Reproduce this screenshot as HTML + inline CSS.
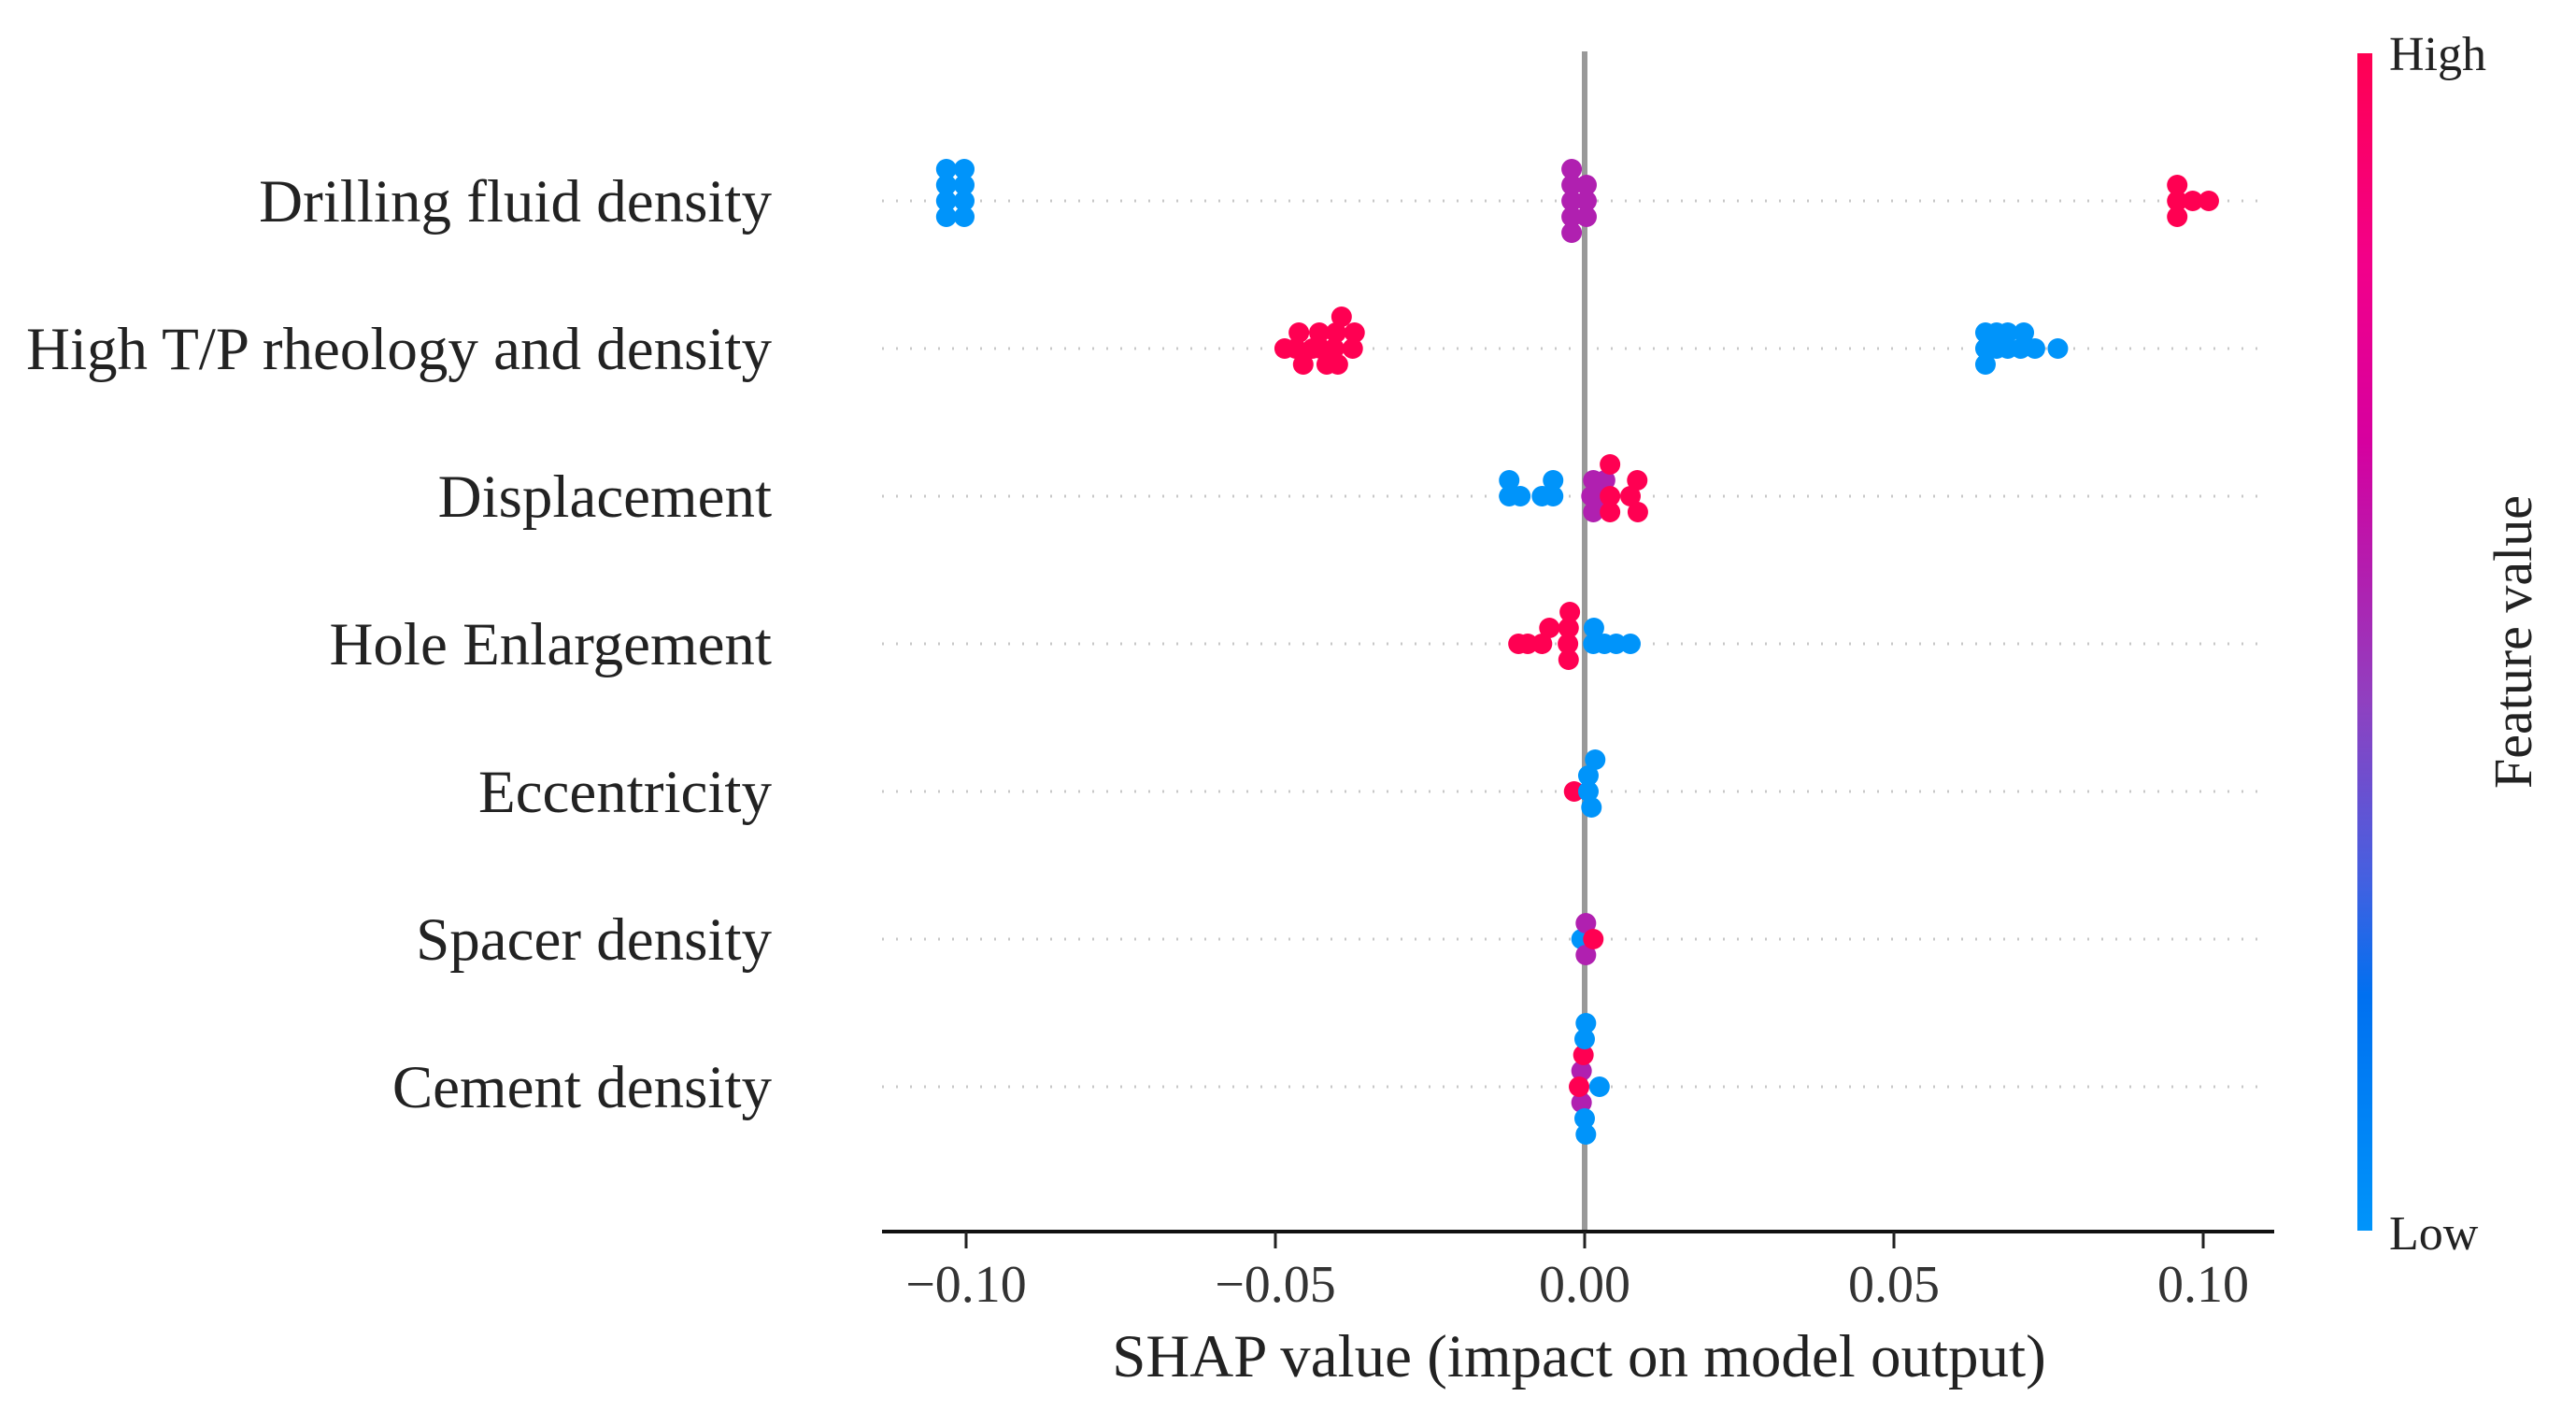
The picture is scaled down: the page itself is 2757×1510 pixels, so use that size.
<!DOCTYPE html>
<html><head><meta charset="utf-8"><style>
html,body{margin:0;padding:0;background:#fff;}
svg{display:block;font-family:"Liberation Serif",serif;}
</style></head><body>
<svg id="chart" width="2757" height="1510" viewBox="0 0 2757 1510" xmlns="http://www.w3.org/2000/svg">
<defs>
<linearGradient id="cbar" x1="0" y1="1" x2="0" y2="0">
<stop offset="0" stop-color="#0094fa"/><stop offset="0.2" stop-color="#0070f0"/><stop offset="0.3" stop-color="#4560e0"/>
<stop offset="0.45" stop-color="#9040c0"/><stop offset="0.55" stop-color="#b020b0"/><stop offset="0.67" stop-color="#d6009f"/>
<stop offset="0.82" stop-color="#f2008a"/><stop offset="1" stop-color="#ff0052"/>
</linearGradient>
</defs>
<g id="grid"></g>
<line x1="1696" y1="55" x2="1696" y2="1318" stroke="#999" stroke-width="6"/>
<g id="dots"></g>
<line x1="944" y1="1318" x2="2434" y2="1318" stroke="#111" stroke-width="4"/>
<g id="xticks"></g>
<g id="ylabels"></g>
<text x="1690" y="1473" font-size="65" text-anchor="middle" fill="#222">SHAP value (impact on model output)</text>
<rect x="2523" y="57" width="16" height="1260" fill="url(#cbar)"/>
<text x="2557" y="75" font-size="52" fill="#222">High</text>
<text x="2557" y="1337" font-size="52" fill="#222">Low</text>
<text x="2709" y="687" font-size="58" fill="#222" text-anchor="middle" transform="rotate(-90 2709 687)">Feature value</text>
</svg>
<script>
const features = ["Drilling fluid density","High T/P rheology and density","Displacement","Hole Enlargement","Eccentricity","Spacer density","Cement density"];
const xTicks = [-0.10,-0.05,0.00,0.05,0.10];
const xTickLabels = ["\u22120.10","\u22120.05","0.00","0.05","0.10"];
const shapDrilling = [-0.1032,-0.1032,-0.1032,-0.1032,-0.1003,-0.1003,-0.1003,-0.1003,-0.0021,-0.0021,-0.0021,-0.0021,-0.0021,0.0003,0.0003,0.0003,0.0958,0.0958,0.0958,0.0983,0.1009];
const featDrilling = [0,0,0,0,0,0,0,0,0.55,0.55,0.55,0.55,0.55,0.55,0.55,0.55,1,1,1,1,1];
const shapHTP = [-0.0485,-0.0467,-0.0462,-0.0455,-0.0440,-0.0429,-0.0427,-0.0417,-0.0405,-0.0402,-0.0399,-0.0393,-0.0375,-0.0372,0.0648,0.0648,0.0648,0.0666,0.0666,0.0684,0.0684,0.0705,0.0710,0.0728,0.0765];
const featHTP = [1,1,1,1,1,1,1,1,1,1,1,1,1,1,0,0,0,0,0,0,0,0,0,0,0];
const shapDisp = [-0.0122,-0.0122,-0.0104,-0.0069,-0.0051,-0.0051,0.0011,0.0014,0.0014,0.0026,0.0033,0.0041,0.0041,0.0041,0.0074,0.0085,0.0086];
const featDisp = [0,0,0,0,0,0,0.55,0.55,0.55,0.55,0.55,1,1,1,1,1,1];
const shapHole = [-0.0107,-0.0092,-0.0069,-0.0057,-0.0027,-0.0026,-0.0026,-0.0024,0.0014,0.0015,0.0032,0.0051,0.0074];
const featHole = [1,1,1,1,1,1,1,1,0,0,0,0,0];
const shapEcc = [-0.0017,0.0006,0.0006,0.0011,0.0017];
const featEcc = [1,0,0,0,0];
const shapSpacer = [-0.0005,0.0002,0.0002,0.0014];
const featSpacer = [0,0.55,0.55,1];
const shapCement = [-0.0005,-0.0005,-0.0009,-0.0002,0.0000,0.0000,0.0002,0.0002,0.0024];
const featCement = [0.55,0.55,1,1,0,0,0,0,0];
const shapRows = [shapDrilling,shapHTP,shapDisp,shapHole,shapEcc,shapSpacer,shapCement];
const featRows = [featDrilling,featHTP,featDisp,featHole,featEcc,featSpacer,featCement];

const NS="http://www.w3.org/2000/svg";
const x0=1696, pxPerUnit=6620;
function xScale(v){return x0+v*pxPerUnit;}
function yRow(i){return 215+i*158;}
const stops=[[0,[0,148,250]],[0.2,[0,112,240]],[0.3,[69,96,224]],[0.45,[144,64,192]],[0.55,[176,32,176]],[0.67,[214,0,159]],[0.82,[242,0,138]],[1,[255,0,82]]];
function colorOf(v){
  for(let k=1;k<stops.length;k++){
    if(v<=stops[k][0]){const a=stops[k-1],b=stops[k];const t=(v-a[0])/(b[0]-a[0]);
      const c=a[1].map((q,j)=>Math.round(q+(b[1][j]-q)*t));return "rgb("+c.join(",")+")";}
  }
  return "rgb(255,0,82)";
}
function mk(tag,attrs,parent){const e=document.createElementNS(NS,tag);for(const k in attrs)e.setAttribute(k,attrs[k]);parent.appendChild(e);return e;}

const grid=document.getElementById("grid"), dots=document.getElementById("dots"), xt=document.getElementById("xticks"), yl=document.getElementById("ylabels");
features.forEach((f,i)=>{
  const y=yRow(i);
  const g=mk("line",{x1:944,y1:y,x2:2428,y2:y,stroke:"#c8c8c8","stroke-width":3,"stroke-dasharray":"2 13"},grid);
  
  
  const t=mk("text",{x:826,y:y+22,"font-size":65,"text-anchor":"end",fill:"#222"},yl);
  t.textContent=f;
  
  
  const vals=shapRows[i], fv=featRows[i];
  const idx=vals.map((v,k)=>k).sort((a,b)=>vals[a]-vals[b]);
  const placed=[];const off=new Array(vals.length);
  const seq=[0,-1,1,-2,2,-3,3,-4,4];
  idx.forEach(k=>{
    const px=xScale(vals[k]);
    for(const L of seq){
      if(!placed.some(p=>p.L===L&&Math.abs(p.x-px)<8)){placed.push({L:L,x:px});off[k]=L;break;}
    }
  });
  vals.forEach((v,k)=>{
    const c=mk("circle",{cx:xScale(v),cy:y+off[k]*17,r:11,fill:colorOf(fv[k])},dots);
    
    
  });
});
xTicks.forEach((v,i)=>{
  const x=xScale(v);
  const l=mk("line",{x1:x,y1:1318,x2:x,y2:1336,stroke:"#222","stroke-width":3},xt);
  
  
  const t=mk("text",{x:x,y:1393,"font-size":56,"text-anchor":"middle",fill:"#333"},xt);
  t.textContent=xTickLabels[i];
  
  
});
</script>
</body></html>
